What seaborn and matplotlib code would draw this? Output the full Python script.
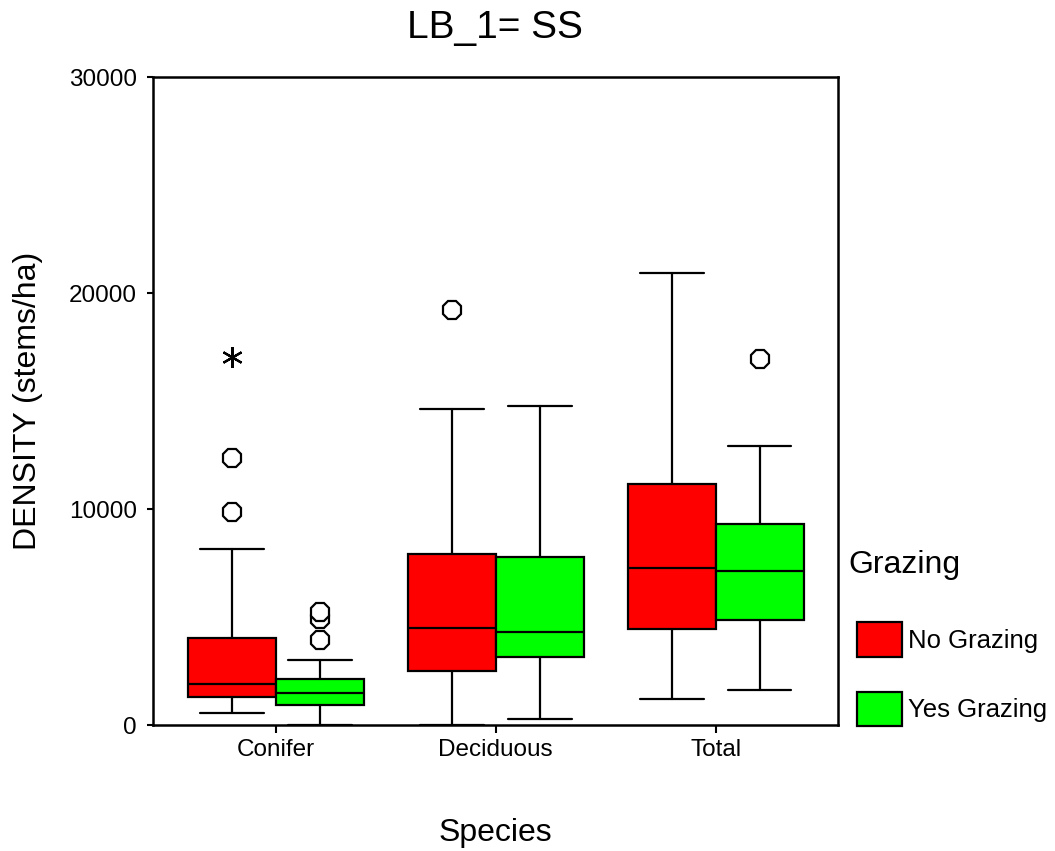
import numpy as np
import matplotlib
matplotlib.use("Agg")
import matplotlib.pyplot as plt
from matplotlib.patches import Patch
import seaborn as sns

# ----------- Data ----------------------------------------
species = ["Conifer", "Deciduous", "Total"]
groups = ["No Grazing", "Yes Grazing"]
colors = ["#ff0000", "#00ff00"]

# per species: [No Grazing, Yes Grazing]
whislo = [[550, 0], [0, 300], [1200, 1600]]
q1 = [[1300, 950], [2500, 3150], [4450, 4850]]
med = [[1900, 1500], [4500, 4300], [7250, 7150]]
q3 = [[4050, 2150], [7900, 7800], [11150, 9300]]
whishi = [[8150, 3000], [14650, 14750], [20950, 12900]]
outliers = [[[9850, 12350], [3950, 4900, 5250]], [[19200], []], [[], [16950]]]
extremes = [[[17050], []], [[], []], [[], []]]

yticks = [0, 10000, 20000, 30000]

# ----------- Plot ---------------------
sns.set_style("white")
plt.rcParams["font.family"] = ["Liberation Sans", "DejaVu Sans"]
plt.rcParams["text.color"] = "black"
plt.rcParams["xtick.color"] = "black"
plt.rcParams["ytick.color"] = "black"
plt.rcParams["axes.labelcolor"] = "black"

fig = plt.figure(figsize=(10.55, 8.51), dpi=100)
ax = fig.add_axes([0.145, 0.148, 0.649, 0.7615])

offsets = [-0.2, 0.2]
for i, sp in enumerate(species):
    for j, grp in enumerate(groups):
        pos = i + offsets[j]
        stats = [{
            "whislo": whislo[i][j], "q1": q1[i][j], "med": med[i][j],
            "q3": q3[i][j], "whishi": whishi[i][j],
            "fliers": outliers[i][j], "label": sp,
        }]
        ax.bxp(stats, positions=[pos], widths=0.4, capwidths=0.29,
               patch_artist=True, manage_ticks=False,
               boxprops=dict(facecolor=colors[j], edgecolor="black", linewidth=1.6),
               medianprops=dict(color="black", linewidth=1.6),
               whiskerprops=dict(color="black", linewidth=1.6),
               capprops=dict(color="black", linewidth=1.6),
               flierprops=dict(marker="8", markersize=14.5, markerfacecolor="white",
                               markeredgecolor="black", markeredgewidth=1.6))
        if extremes[i][j]:
            ax.plot([pos] * len(extremes[i][j]), extremes[i][j], linestyle="none",
                    marker=(6, 2, 0), markersize=15, color="black",
                    markeredgewidth=1.6)

ax.set_xlim(-0.559, 2.555)
ax.set_ylim(0, 30000)
ax.set_xticks(range(len(species)))
ax.set_xticklabels(species, fontsize=17.5)
ax.set_yticks(yticks)
ax.set_yticklabels([str(t) for t in yticks], fontsize=17.5)
ax.tick_params(axis="x", direction="out", length=6, width=1.5, pad=4,
               bottom=True, color="black", labelcolor="black")
ax.tick_params(axis="y", direction="out", length=4.5, width=1.5, pad=7,
               left=True, color="black", labelcolor="black")
for s in ax.spines.values():
    s.set_visible(True)
    s.set_color("black")
    s.set_linewidth(1.8)

ax.set_xlabel("Species", fontsize=23, labelpad=41, color="black")
ax.set_ylabel("DENSITY (stems/ha)", fontsize=23, labelpad=19, color="black")
ax.set_title("LB_1= SS", fontsize=28, pad=28, color="black")

# legend
handles = [Patch(facecolor=c, edgecolor="black", linewidth=1.6, label=g)
           for c, g in zip(colors, groups)]
fig.text(848 / 1055, 1 - 565 / 851, "Grazing", fontsize=23, va="center",
         ha="left", color="black")
leg = fig.legend(handles=handles, loc="upper left",
                 bbox_to_anchor=(857 / 1055, 1 - 622 / 851), frameon=False,
                 fontsize=18.5, handlelength=1.75, handleheight=1.7,
                 handletextpad=0.23, labelspacing=1.36, borderpad=0,
                 borderaxespad=0)
for t in leg.get_texts():
    t.set_color("black")

fig.savefig("out.png", dpi=100)
